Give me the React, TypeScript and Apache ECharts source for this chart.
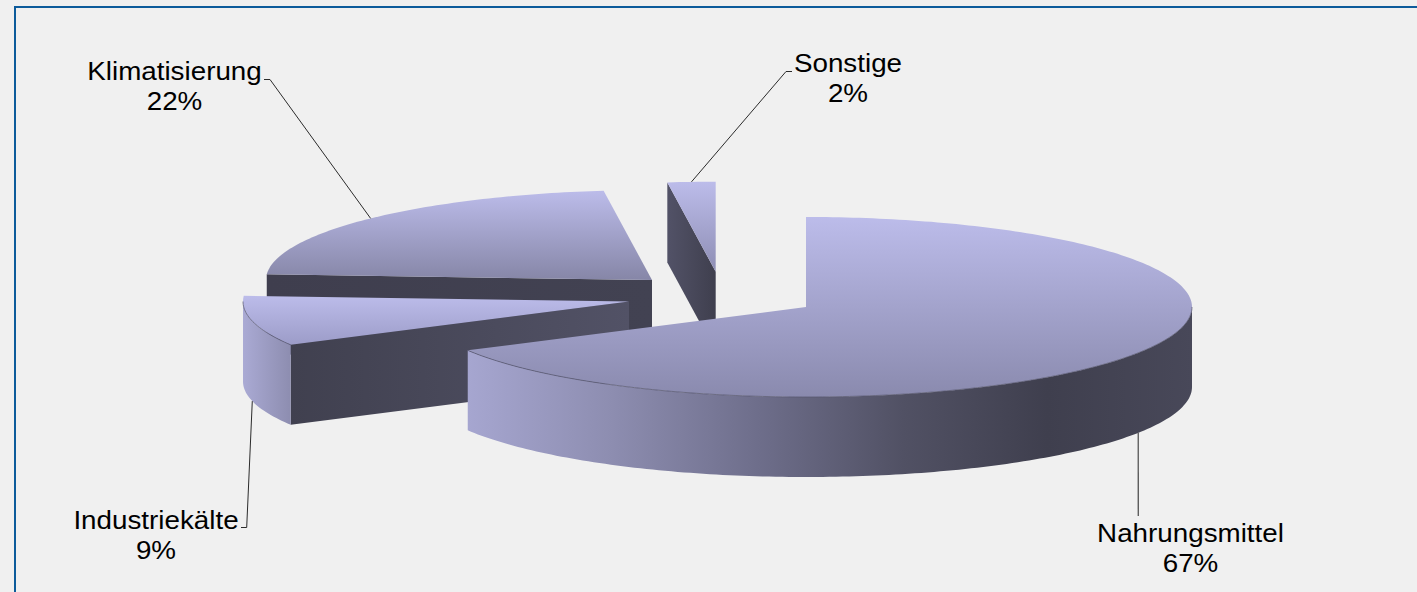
import React, { useEffect, useRef } from "react";
import * as echarts from "echarts";

// Shares in percent, clockwise from twelve o'clock.
const categories = ["Nahrungsmittel", "Industriekälte", "Klimatisierung", "Sonstige"];
const shares = [67, 9, 22, 2];

const WIDTH = 1417;
const HEIGHT = 592;
const RX = 386;
const RY = 90;
const DEPTH = 80;
const FONT = '"Liberation Sans", Arial, sans-serif';

// Exploded position of each slice's tip, its stacking rank, label block and leader elbows.
const sliceLayout = [
  { apex: [806, 307], rank: 3, label: [1190.5, 548], elbows: [[1138.3, 516]], faceEnd: "#8a8aae",
    leader: { stroke: "#5e5e5e", lineWidth: 1.4 },
    wallStops: ["#a6a6d0", "#8d8db0", "#6e6e8b", "#515164", "#3f3f4e", "#484859"], edgeStops: ["#474757", "#474757"] },
  { apex: [629, 301.5], rank: 2, label: [156, 535], elbows: [[246.7, 527.5], [241, 527.5]], faceEnd: "#9c9cc8",
    leader: { stroke: "#2b2b2b", lineWidth: 1 },
    wallStops: ["#aaaad4", "#8d8db0"], edgeStops: ["#40404f", "#525266"] },
  { apex: [652, 280], rank: 0, label: [174.5, 86.5], elbows: [[270, 79.5], [264, 79.5]], faceEnd: "#8686a7",
    leader: { stroke: "#2b2b2b", lineWidth: 1 },
    wallStops: ["#8d8db0", "#8d8db0"], edgeStops: ["#3f3e4e", "#424252"] },
  { apex: [715.7, 271.7], rank: 1, label: [848, 78], elbows: [[786, 71.5], [792, 71.5]], faceEnd: "#8e8eb4",
    leader: { stroke: "#2b2b2b", lineWidth: 1 },
    wallStops: ["#8d8db0", "#8d8db0"], edgeStops: ["#525267", "#3f3f4e"] },
];
const FACE_START = "#bcbcea";

const DEG = Math.PI / 180;

const rim = (apex: number[], deg: number, drop = 0) => [
  apex[0] + RX * Math.sin(deg * DEG),
  apex[1] - RY * Math.cos(deg * DEG) + drop,
];

const arc = (apex: number[], from: number, to: number, drop = 0) => {
  const pts: number[][] = [];
  const steps = Math.max(2, Math.ceil(Math.abs(to - from)));
  for (let i = 0; i <= steps; i++) pts.push(rim(apex, from + ((to - from) * i) / steps, drop));
  return pts;
};

const evenStops = (colors: string[]) =>
  colors.map((color, i) => ({ offset: i / (colors.length - 1), color }));

const span = (pts: number[][], axis: number) => {
  const vals = pts.map((p) => p[axis]);
  return [Math.min(...vals), Math.max(...vals)];
};

const horizontal = (pts: number[][], colors: string[]) => {
  const [a, b] = span(pts, 0);
  return new echarts.graphic.LinearGradient(a, 0, b, 0, evenStops(colors), true);
};

const vertical = (pts: number[][], from: string, to: string) => {
  const [a, b] = span(pts, 1);
  return new echarts.graphic.LinearGradient(0, a, 0, b, evenStops([from, to]), true);
};

function renderSlice(params: any, api: any) {
  const i = params.dataIndex;
  const share = api.value(0) as number;
  const total = shares.reduce((s, v) => s + v, 0);
  const start = (shares.slice(0, i).reduce((s, v) => s + v, 0) / total) * 360;
  const end = start + (share / total) * 360;
  const mid = (start + end) / 2;
  const lay = sliceLayout[i];
  const { apex } = lay;
  const base = lay.rank * 10;
  const children: any[] = [];

  // Cut wall running from the tip to the start of the arc, when it faces the viewer.
  if (Math.sin(start * DEG) < -1e-6) {
    const p = rim(apex, start);
    const pts = [apex, p, [p[0], p[1] + DEPTH], [apex[0], apex[1] + DEPTH]];
    children.push({
      type: "polygon", z2: base, shape: { points: pts },
      style: { fill: horizontal(pts, lay.edgeStops) },
    });
  }

  // Outer curved wall, only over the front half of the ellipse.
  const wallFrom = Math.max(start, 90);
  const wallTo = Math.min(end, 270);
  if (wallTo > wallFrom) {
    const upper = arc(apex, wallFrom, wallTo);
    const lower = arc(apex, wallTo, wallFrom, DEPTH);
    const pts = [...upper, ...lower];
    children.push({
      type: "polygon", z2: base + 1, shape: { points: pts },
      style: { fill: horizontal(pts, lay.wallStops) },
    });
    children.push({
      type: "polyline", z2: base + 3, shape: { points: upper },
      style: { stroke: "#54546c", lineWidth: 0.7, fill: "none" },
    });
  }

  // Top face.
  const face = [apex, ...arc(apex, start, end)];
  children.push({
    type: "polygon", z2: base + 2, shape: { points: face },
    style: { fill: vertical(face, FACE_START, lay.faceEnd) },
  });

  // Leader from the middle of the arc to the label.
  const front = Math.cos(mid * DEG) < 0;
  const anchor = rim(apex, mid, front ? DEPTH : 0);
  children.push({
    type: "polyline", z2: 100, shape: { points: [anchor, ...lay.elbows] },
    style: { ...lay.leader, fill: "none" },
  });

  // Label.
  children.push({
    type: "text", z2: 101, x: lay.label[0], y: lay.label[1], scaleX: 1.09,
    style: {
      text: `${categories[i]}\n${share}%`,
      x: 0, y: 0,
      fill: "#000000",
      font: `25.5px ${FONT}`,
      lineHeight: 30,
      align: "center", verticalAlign: "middle",
      textAlign: "center", textVerticalAlign: "middle",
    },
  });

  return { type: "group", children };
}

export default function App() {
  const ref = useRef<HTMLDivElement>(null);

  useEffect(() => {
    if (!ref.current) return;
    const chart = echarts.init(ref.current, undefined, { renderer: "svg" });
    chart.setOption({
      animation: false,
      backgroundColor: "#f0f0f0",
      graphic: [
        { type: "line", shape: { x1: 14, y1: 7, x2: WIDTH, y2: 7 }, style: { stroke: "#0d5b9b", lineWidth: 2 } },
        { type: "line", shape: { x1: 15, y1: 6, x2: 15, y2: HEIGHT }, style: { stroke: "#0d5b9b", lineWidth: 2 } },
      ],
      series: [
        {
          type: "custom",
          coordinateSystem: "none",
          silent: true,
          clip: false,
          renderItem: renderSlice,
          data: shares.map((value, i) => ({ name: categories[i], value })),
        },
      ],
    });
    return () => chart.dispose();
  }, []);

  return (
    <div
      ref={ref}
      style={{ position: "absolute", left: 0, top: 0, width: WIDTH, height: HEIGHT }}
    />
  );
}
